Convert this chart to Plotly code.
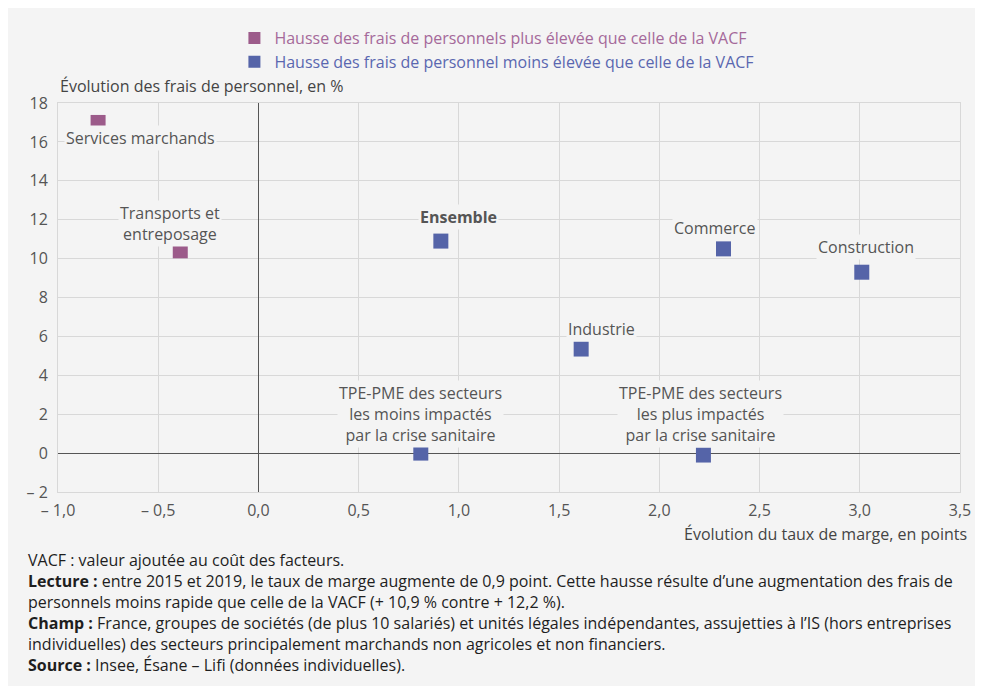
import plotly.graph_objects as go

# Data
names_up = ["Services marchands", "Transports et<br>entreposage"]
x_up = [-0.8, -0.39]
y_up = [17.0, 10.4]

names_down = ["Ensemble", "Commerce", "Construction", "Industrie",
              "TPE-PME des secteurs<br>les moins impactés<br>par la crise sanitaire",
              "TPE-PME des secteurs<br>les plus impactés<br>par la crise sanitaire"]
x_down = [0.91, 2.32, 3.01, 1.61, 0.81, 2.22]
y_down = [10.9, 10.5, 9.3, 5.35, 0.0, -0.1]

# label positions (data coords)
label_x_up = [-0.59, -0.44]
label_y_up = [16.2, 11.83]
label_x_down = [1.0, 2.28, 3.03, 1.71, 0.807, 2.206]
label_y_down = [12.14, 11.57, 10.6, 6.38, 2.01, 2.01]

x_ticks = [-1.0, -0.5, 0.0, 0.5, 1.0, 1.5, 2.0, 2.5, 3.0, 3.5]
x_ticktext = ["– 1,0", "– 0,5", "0,0", "0,5", "1,0", "1,5", "2,0", "2,5", "3,0", "3,5"]
y_ticks = [-2, 0, 2, 4, 6, 8, 10, 12, 14, 16, 18]
y_ticktext = ["– 2", "0", "2", "4", "6", "8", "10", "12", "14", "16", "18"]

c_up = "#9c5b8a"
c_down = "#5564a8"
bg = "#f4f4f4"
font = "Open Sans"

W, H = 975, 678
L, R, T, B = 50, 20, 95, 194
PW = W - L - R
PH = H - T - B


def px_x(fx):
    return (fx - L) / PW


def px_y(fy):
    return (H - B - fy) / PH


fig = go.Figure()
fig.add_trace(go.Scatter(
    x=x_up, y=y_up, mode="markers",
    marker=dict(symbol="square", size=15, color=c_up),
    name="<span style='color:#a5699a'>Hausse des frais de personnels plus élevée que celle de la VACF</span>",
))
fig.add_trace(go.Scatter(
    x=x_down, y=y_down, mode="markers",
    marker=dict(symbol="square", size=15, color=c_down),
    name="<span style='color:#5a67b0'>Hausse des frais de personnel moins élevée que celle de la VACF</span>",
))

annotations = []
for n, lx, ly in zip(names_up + names_down, label_x_up + label_x_down, label_y_up + label_y_down):
    txt = "<b>" + n + "</b>" if n == "Ensemble" else n
    annotations.append(dict(x=lx, y=ly, xref="x", yref="y", text=txt, showarrow=False,
                            font=dict(family=font, size=16, color="#555555"),
                            bgcolor=bg, align="center", borderpad=1))

annotations.append(dict(x=px_x(50), y=px_y(78), xref="paper", yref="paper",
                        xanchor="left", yanchor="middle",
                        text="Évolution des frais de personnel, en %", showarrow=False,
                        font=dict(family=font, size=16, color="#444444")))
annotations.append(dict(x=px_x(964), y=px_y(526), xref="paper", yref="paper",
                        xanchor="right", yanchor="middle",
                        text="Évolution du taux de marge, en points", showarrow=False,
                        font=dict(family=font, size=16, color="#444444")))

foot = [
    "VACF : valeur ajoutée au coût des facteurs.",
    "<b>Lecture :</b> entre 2015 et 2019, le taux de marge augmente de 0,9 point. Cette hausse résulte d’une augmentation des frais de",
    "personnels moins rapide que celle de la VACF (+ 10,9 % contre + 12,2 %).",
    "<b>Champ :</b> France, groupes de sociétés (de plus 10 salariés) et unités légales indépendantes, assujetties à l’IS (hors entreprises",
    "individuelles) des secteurs principalement marchands non agricoles et non financiers.",
    "<b>Source :</b> Insee, Ésane – Lifi (données individuelles).",
]
for i, t in enumerate(foot):
    fy = 552 + 21 * i
    annotations.append(dict(x=px_x(18), y=px_y(fy), xref="paper", yref="paper",
                            xanchor="left", yanchor="middle", text=t, showarrow=False,
                            font=dict(family=font, size=16, color="#1e1e1e")))

fig.update_layout(
    width=W, height=H,
    margin=dict(l=L, r=R, t=T, b=B),
    paper_bgcolor=bg, plot_bgcolor=bg,
    font=dict(family=font, size=16, color="#555555"),
    showlegend=True,
    legend=dict(x=px_x(227), y=px_y(13), xanchor="left", yanchor="top",
                bgcolor="rgba(0,0,0,0)", font=dict(family=font, size=16),
                itemsizing="constant", tracegroupgap=0),
    xaxis=dict(range=[-1.0, 3.5], tickvals=x_ticks, ticktext=x_ticktext,
               showgrid=True, gridcolor="#d8d8d8", gridwidth=1,
               zeroline=True, zerolinecolor="#555555", zerolinewidth=1.3,
               showline=True, linecolor="#d8d8d8", mirror=True,
               ticks="", ticklabelstandoff=4, tickfont=dict(size=16, color="#555555")),
    yaxis=dict(range=[-2, 18], tickvals=y_ticks, ticktext=y_ticktext,
               showgrid=True, gridcolor="#d8d8d8", gridwidth=1,
               zeroline=True, zerolinecolor="#555555", zerolinewidth=1.3,
               showline=True, linecolor="#d8d8d8", mirror=True,
               ticks="", ticklabelstandoff=6, tickfont=dict(size=16, color="#555555")),
    annotations=annotations,
)

fig.write_html("out.html")
